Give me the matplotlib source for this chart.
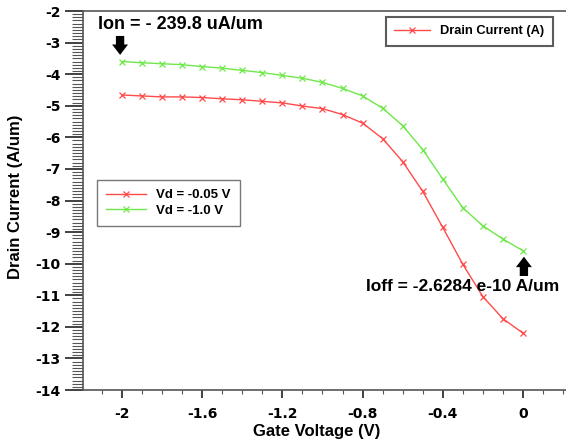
import numpy as np
import matplotlib
matplotlib.use('Agg')
import matplotlib.pyplot as plt
from matplotlib.ticker import MultipleLocator
from matplotlib.lines import Line2D

plt.rcParams['font.family'] = ['Liberation Sans', 'DejaVu Sans']
plt.rcParams['font.weight'] = 'bold'
plt.rcParams['axes.unicode_minus'] = False

# gate sweep, 0.1 V steps
vg = [-2.0, -1.9, -1.8, -1.7, -1.6, -1.5, -1.4, -1.3, -1.2, -1.1, -1.0,
      -0.9, -0.8, -0.7, -0.6, -0.5, -0.4, -0.3, -0.2, -0.1, 0.0]
# log10 of drain current (A/um)
id_vd005 = [-4.66, -4.69, -4.72, -4.72, -4.74, -4.78, -4.81, -4.86, -4.91, -5.01, -5.09,
            -5.28, -5.55, -6.04, -6.77, -7.71, -8.85, -10.02, -11.04, -11.74, -12.20]
id_vd1 = [-3.60, -3.64, -3.67, -3.70, -3.76, -3.81, -3.88, -3.95, -4.04, -4.13, -4.26,
          -4.45, -4.69, -5.08, -5.63, -6.39, -7.32, -8.23, -8.80, -9.22, -9.59]
xtick_vals = [-2, -1.6, -1.2, -0.8, -0.4, 0]
xtick_labels = ['-2', '-1.6', '-1.2', '-0.8', '-0.4', '0']

red = '#ff4a4a'
green = '#6ee84a'

fig = plt.figure(figsize=(5.66, 4.42), dpi=100)
ax = fig.add_axes([83/566, 1 - 390/442, 1 - 83/566, (390 - 11)/442])

l1, = ax.plot(vg, id_vd005, color=red, lw=1.0, marker='x', ms=5, mew=0.9)
l2, = ax.plot(vg, id_vd1, color=green, lw=1.0, marker='x', ms=5, mew=0.9)

ax.set_xlim(-2.195, 0.215)
ax.set_ylim(-14, -2)
ax.xaxis.set_minor_locator(MultipleLocator(0.1))
ax.yaxis.set_major_locator(MultipleLocator(1))
ax.yaxis.set_minor_locator(MultipleLocator(0.1))
ax.set_xticks(xtick_vals)
ax.set_xticklabels(xtick_labels)
ax.tick_params(which='major', direction='out', width=1.3, color='#333333', labelsize=10)
ax.tick_params(which='minor', direction='out', width=0.8, color='#555555')
ax.tick_params(axis='x', which='major', length=6, pad=6)
ax.tick_params(axis='x', which='minor', length=3)
ax.tick_params(axis='y', which='major', length=13, pad=3)
ax.tick_params(axis='y', which='minor', length=8)
for lbl in ax.get_xticklabels() + ax.get_yticklabels():
    lbl.set_fontweight('bold')
    lbl.set_family('DejaVu Sans')

for s in ['left', 'bottom', 'top']:
    ax.spines[s].set_color('#555555')
    ax.spines[s].set_linewidth(1.2)
ax.spines['right'].set_visible(False)

ax.set_xlabel('Gate Voltage (V)', fontsize=12, fontweight='bold')
ax.set_ylabel('Drain Current (A/um)', fontsize=12, fontweight='bold')
ax.xaxis.set_label_coords((317 - 83)/483, (390 - 424)/379)
ax.yaxis.set_label_coords((23 - 83)/483, 0.51)

leg1 = ax.legend([l1, l2], ['Vd = -0.05 V', 'Vd = -1.0 V'], loc='upper left',
                 bbox_to_anchor=(14/483, (390 - 180)/379), fancybox=False,
                 edgecolor='#555555', handlelength=3.0, handletextpad=0.8,
                 borderpad=0.7, labelspacing=0.25, borderaxespad=0,
                 prop={'weight': 'bold', 'size': 9.5})
leg1.get_frame().set_linewidth(1.0)
ax.add_artist(leg1)

h = Line2D([], [], color=red, lw=1.0, marker='x', ms=5, mew=0.9)
leg2 = ax.legend([h], ['Drain Current (A)'], loc='upper right',
                 bbox_to_anchor=((553 - 83)/483, (390 - 17)/379), fancybox=False,
                 edgecolor='#333333', handlelength=2.8, handletextpad=0.8,
                 borderpad=0.65, borderaxespad=0,
                 prop={'weight': 'bold', 'size': 9.3})
leg2.get_frame().set_linewidth(1.5)

arrow = 'simple,head_length=0.75,head_width=1.15,tail_width=0.6'
ax.text(-2.12, -2.42, 'Ion = - 239.8 uA/um', fontsize=13, fontweight='bold',
        ha='left', va='center')
ax.annotate('', xy=(-2.01, -3.39), xytext=(-2.01, -2.79),
            arrowprops=dict(arrowstyle=arrow, mutation_scale=10,
                            color='black', lw=0, shrinkA=0, shrinkB=0))
ax.text(-0.785, -10.73, 'Ioff = -2.6284 e-10 A/um', fontsize=12.5, fontweight='bold',
        ha='left', va='center', zorder=5)
ax.annotate('', xy=(0.005, -9.78), xytext=(0.005, -10.39),
            arrowprops=dict(arrowstyle=arrow, mutation_scale=10,
                            color='black', lw=0, shrinkA=0, shrinkB=0))

fig.savefig('out.png', dpi=100)
